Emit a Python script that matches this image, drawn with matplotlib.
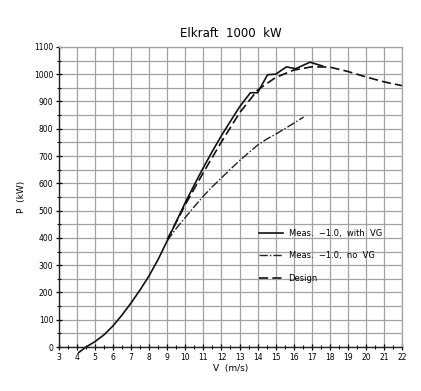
import matplotlib
matplotlib.use("Agg")
import matplotlib.pyplot as plt
from matplotlib.ticker import MultipleLocator

# ---- data ----
v_vg = [4.1, 4.5, 5, 5.5, 6, 6.5, 7, 7.5, 8, 8.5, 9, 9.5, 10, 10.5, 11, 11.5, 12,
        12.5, 13, 13.6, 14.0, 14.55, 15.0, 15.6, 16.1, 16.9, 17.6]
p_vg = [-20, 0, 20, 45, 78, 118, 162, 210, 262, 322, 390, 460, 530, 595, 658, 718,
        775, 828, 880, 932, 932, 998, 1000, 1027, 1020, 1044, 1030]

v_novg = [9, 9.5, 10, 10.5, 11, 11.5, 12, 12.5, 13, 13.5, 14, 14.5, 15, 15.5, 16, 16.55]
p_novg = [390, 435, 475, 515, 553, 588, 620, 652, 683, 712, 740, 762, 780, 800, 820, 843]

v_design = [9, 10, 11, 12, 13, 14, 15, 16, 17, 18, 19, 20, 21, 22]
p_design = [395, 522, 640, 752, 858, 942, 988, 1015, 1027, 1026, 1010, 990, 972, 958]

labels = ["Meas.  \u22121.0,  with  VG", "Meas.  \u22121.0,  no  VG", "Design"]
title = "Elkraft  1000  kW"

fig = plt.figure(figsize=(4.21, 3.91), dpi=100)
ax = fig.add_axes([0.140, 0.1125, 0.815, 0.7675])

ax.plot(v_vg, p_vg, color="#111111", lw=1.2, label=labels[0], clip_on=False)
ax.plot(v_novg, p_novg, color="#222222", lw=1.0, linestyle=(0, (6, 1.5, 1, 1.5)), label=labels[1])
ax.plot(v_design, p_design, color="#111111", lw=1.2, linestyle=(0, (5.5, 2.5)), label=labels[2])

ax.set_xlim(3, 22)
ax.set_ylim(0, 1100)
ax.xaxis.set_major_locator(MultipleLocator(1))
ax.xaxis.set_minor_locator(MultipleLocator(0.5))
ax.yaxis.set_major_locator(MultipleLocator(100))
ax.yaxis.set_minor_locator(MultipleLocator(50))
ax.grid(True, which="major", color="#a2a2a2", lw=0.9)
ax.grid(True, which="minor", axis="y", color="#a2a2a2", lw=0.9)
ax.tick_params(axis="both", which="major", labelsize=5.5, length=4, width=0.9, direction="inout", pad=2)
ax.tick_params(axis="both", which="minor", length=2.5, width=0.8, direction="inout")
for s in ["top", "right"]:
    ax.spines[s].set_color("#a2a2a2")
    ax.spines[s].set_linewidth(0.9)
for s in ["left", "bottom"]:
    ax.spines[s].set_color("#222222")
    ax.spines[s].set_linewidth(1.0)
ax.set_axisbelow(True)

ax.set_title(title, fontsize=8.5, pad=7)
ax.set_xlabel("V  (m/s)", fontsize=6.5, labelpad=2)
ax.set_ylabel("P  (kW)", fontsize=6.5, labelpad=6)

leg = ax.legend(frameon=False, loc="upper left", bbox_to_anchor=(0.56, 0.418),
                fontsize=6, handlelength=2.9, labelspacing=1.6, handletextpad=0.7)

fig.savefig("out.png", dpi=100, facecolor="white")
